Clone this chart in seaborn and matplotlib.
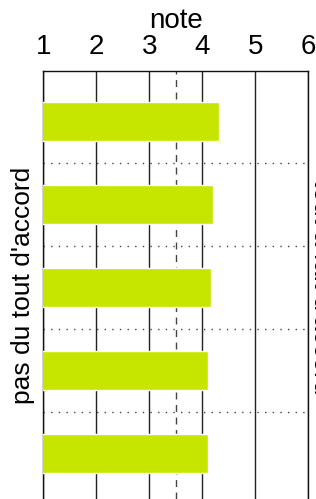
import matplotlib
matplotlib.use("Agg")
import matplotlib.pyplot as plt
import pandas as pd
import seaborn as sns

# values
items = ["q1", "q2", "q3", "q4", "q5"]
notes = [4.31, 4.20, 4.16, 4.10, 4.10]
midpoint = 3.5

sns.set_style("white")
plt.rcParams['font.family'] = ['Liberation Sans', 'DejaVu Sans']
plt.rcParams['text.color'] = 'black'
plt.rcParams['axes.labelcolor'] = 'black'
plt.rcParams['xtick.color'] = 'black'

df = pd.DataFrame({"item": items, "note": notes})

fig = plt.figure(figsize=(3.16, 4.99), dpi=100)
ax = fig.add_axes([43.3 / 316, 0.0, 265 / 316, (499 - 71) / 499])

sns.barplot(data=df, x="note", y="item", orient="h", color="#c6e600",
            saturation=1, width=0.466, ax=ax, zorder=3)

# grid: solid verticals, dashed midpoint, dotted separators
for v in range(1, 7):
    ax.axvline(v, color="#222222", lw=1.0, zorder=1)
ax.axvline(midpoint, color="#444444", lw=1.0, ls=(0, (5, 4)), zorder=2)
for k in range(len(items) - 1):
    ax.axhline(k + 0.5, color="#444444", lw=1.0, ls=(0, (1, 4.5)), zorder=2)

ax.set_xlim(1, 6)
ax.set_ylim(4.55, -0.607)
ax.xaxis.tick_top()
ax.xaxis.set_label_position("top")
ax.set_xticks([1, 2, 3, 4, 5, 6])
ax.tick_params(axis="x", length=0, pad=8, labelsize=20)
ax.set_xlabel("note", fontsize=20, labelpad=4)
ax.set_yticks([])
ax.set_ylabel("pas du tout d'accord", fontsize=19, labelpad=6)

for s in ["top", "left", "right"]:
    ax.spines[s].set_visible(True)
    ax.spines[s].set_color("#111111")
    ax.spines[s].set_linewidth(1.0)
ax.spines["bottom"].set_visible(False)

# right-hand label, mostly outside the canvas as in the reference
fig.text(309 / 316, 0.425, "tout à fait d'accord", rotation=270,
         ha="left", va="center", fontsize=19)

fig.savefig("out.png", dpi=100)
